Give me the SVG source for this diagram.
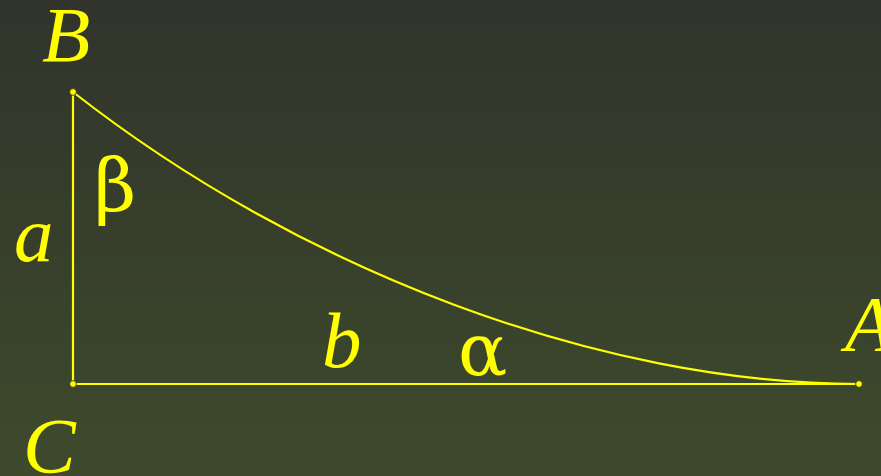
<svg xmlns="http://www.w3.org/2000/svg" width="881" height="476" viewBox="0 0 881 476">
  <defs>
    <linearGradient id="bg" x1="0" y1="0" x2="0" y2="1">
      <stop offset="0" stop-color="#30342b"/>
      <stop offset="1" stop-color="#3e4a2c"/>
    </linearGradient>
    <style>
      .edge { fill: none; stroke: #ffff00; stroke-width: 2.2; }
      .pt { fill: #ffff00; stroke: #222; stroke-width: 0.8; }
      .lbl { fill: #ffff00; font-family: "Liberation Serif", "Times New Roman", serif; font-style: italic; font-size: 79px; }
      .greek { fill: #ffff00; font-family: "DejaVu Serif", "Liberation Serif", serif; font-size: 73px; }
    </style>
  </defs>
  <rect width="881" height="476" fill="url(#bg)"/>
  <g id="connectors">
    <line class="edge" x1="73" y1="92" x2="73" y2="384"/>
    <line class="edge" x1="73" y1="384" x2="859" y2="384"/>
    <path class="edge" d="M73,92 C300,270 600,384 859,384"/>
  </g>
  <g id="node-B">
    <circle class="pt" cx="73" cy="92" r="3.4"/>
    <text class="lbl" x="42" y="61">B</text>
  </g>
  <g id="node-C">
    <circle class="pt" cx="73" cy="384" r="3.4"/>
    <text class="lbl" x="23" y="472">C</text>
  </g>
  <g id="node-A">
    <circle class="pt" cx="859" cy="384" r="3.4"/>
    <text class="lbl" x="845" y="350">A</text>
  </g>
  <g id="labels">
    <text class="lbl" x="14" y="261">a</text>
    <text class="lbl" x="322" y="367">b</text>
    <text class="greek" x="94" y="211">β</text>
    <text class="greek" x="458" y="375">α</text>
  </g>
</svg>
